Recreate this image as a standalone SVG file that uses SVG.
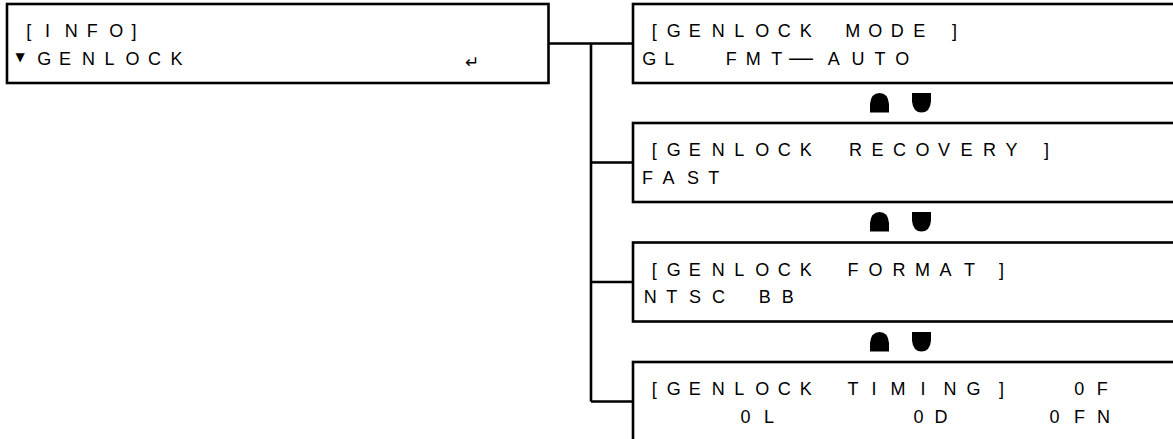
<svg xmlns="http://www.w3.org/2000/svg" width="1173" height="439" viewBox="0 0 1173 439">
<style>
  .box{fill:#fff;stroke:#000;stroke-width:2.6}
  .wire{fill:none;stroke:#000;stroke-width:2.6}
  .t{font-family:"Liberation Sans",Arial,sans-serif;font-size:18px;fill:#000}
  .sym{font-family:"DejaVu Sans",sans-serif;fill:#000}
  .ud{fill:#000}
</style>
<rect width="1173" height="439" fill="#fff"/>
<g id="connectors">
  <path class="wire" d="M548,43.5 H633 M591,43.5 V401.5 M591,162.5 H633 M591,282 H633 M591,401.5 H633"/>
</g>
<g id="node-info">
  <rect class="box" x="7" y="4" width="541.5" height="79"/>
  <text class="t" y="36.5"><tspan x="26.3 45 64.7 86.7 109.2 131.5">[INFO]</tspan></text>
  <text class="sym" x="15.5" y="61" font-size="12">▼</text>
  <text class="t" y="64.5"><tspan x="37.2 59.1 82.1 104.6 125.6 148.1 170.6">GENLOCK</tspan></text>
  <text class="sym" x="465" y="67.5" font-size="17" fill="#444">↵</text>
</g>
<g id="node-mode">
  <rect class="box" x="633" y="4" width="600" height="79"/>
  <text class="t" y="37"><tspan x="651.8 666.8 688.7 711.7 734.2 755.2 777.8 799.8">[GENLOCK</tspan> <tspan x="845.3 868.2 890.7 913.2 952">MODE]</tspan></text>
  <text class="t" y="64.5"><tspan x="642.2 664.2">GL</tspan> <tspan x="725.8 745.7 771.2">FMT</tspan><tspan x="789" font-size="24">—</tspan><tspan x="827.8 851.5 874.6 895.2">AUTO</tspan></text>
</g>
<g id="marker-1">
  <path class="ud" d="M870,112.5 V104 Q871,93 879.5,93 Q888,93 889,104 V112.5 Z"/>
  <path class="ud" d="M912,93 H931 V101.5 Q930,112.5 921.5,112.5 Q913,112.5 912,101.5 Z"/>
</g>
<g id="node-recovery">
  <rect class="box" x="633" y="123" width="600" height="79"/>
  <text class="t" y="156"><tspan x="651.8 666.8 688.7 711.7 734.2 755.2 777.8 799.8">[GENLOCK</tspan> <tspan x="849 871.5 893 915.5 938 960.5 983 1005.5 1044">RECOVERY]</tspan></text>
  <text class="t" y="183.5"><tspan x="642 662.5 687 708.3">FAST</tspan></text>
</g>
<g id="marker-2">
  <path class="ud" d="M870,231.5 V223 Q871,212 879.5,212 Q888,212 889,223 V231.5 Z"/>
  <path class="ud" d="M912,212 H931 V220.5 Q930,231.5 921.5,231.5 Q913,231.5 912,220.5 Z"/>
</g>
<g id="node-format">
  <rect class="box" x="633" y="242.5" width="600" height="79"/>
  <text class="t" y="275.5"><tspan x="651.8 666.8 688.7 711.7 734.2 755.2 777.8 799.8">[GENLOCK</tspan> <tspan x="847.5 868.5 892.5 915 939.5 964 999">FORMAT]</tspan></text>
  <text class="t" y="303"><tspan x="643.7 666.2 689 712">NTSC</tspan> <tspan x="758.7 781.7">BB</tspan></text>
</g>
<g id="marker-3">
  <path class="ud" d="M870,351.5 V343 Q871,332 879.5,332 Q888,332 889,343 V351.5 Z"/>
  <path class="ud" d="M912,332 H931 V340.5 Q930,351.5 921.5,351.5 Q913,351.5 912,340.5 Z"/>
</g>
<g id="node-timing">
  <rect class="box" x="633" y="362" width="600" height="79"/>
  <text class="t" y="395"><tspan x="651.8 666.8 688.7 711.7 734.2 755.2 777.8 799.8">[GENLOCK</tspan> <tspan x="847.5 871.5 890.5 920.5 943.5 966.5 999">TIMING]</tspan> <tspan x="1074.3 1096.8">0F</tspan></text>
  <text class="t" y="422.5"><tspan x="740.5 764">0L</tspan> <tspan x="913.5 934.5">0D</tspan> <tspan x="1049.5 1074 1097">0FN</tspan></text>
</g>
</svg>
